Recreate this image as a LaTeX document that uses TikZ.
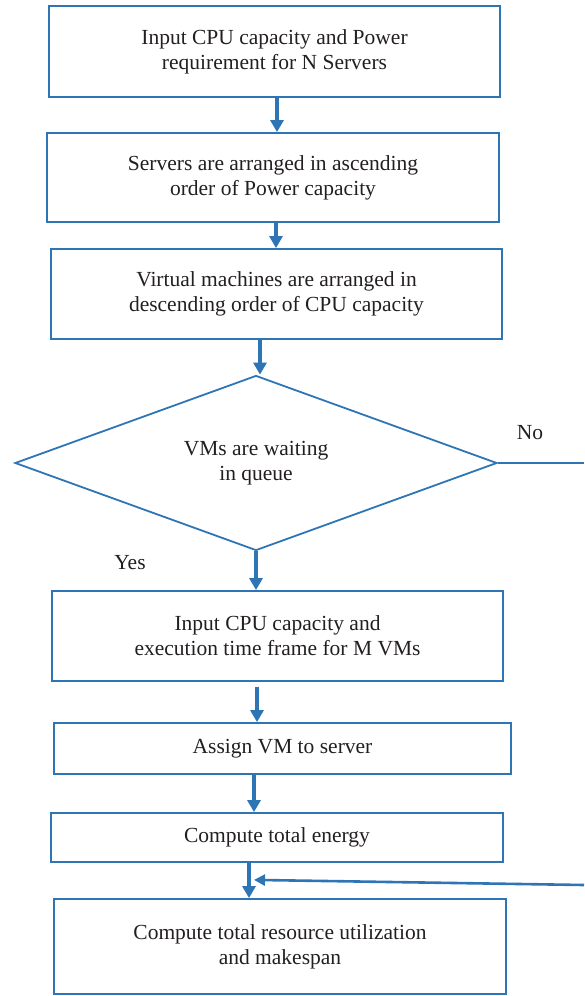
\documentclass[tikz,border=0pt]{standalone}
\usepackage{fontspec}
\setmainfont{Liberation Serif}
\usetikzlibrary{shapes.geometric,arrows.meta}
\definecolor{lineblue}{RGB}{46,117,182}
\definecolor{txt}{RGB}{35,31,32}
\tikzset{
  box/.style={draw=lineblue,line width=1.8pt,rectangle,inner sep=0pt,align=center,
    font=\fontsize{21.5}{25}\selectfont,text=txt},
  dec/.style={draw=lineblue,line width=1.8pt,diamond,aspect=2.73,inner sep=0pt,align=center,
    font=\fontsize{21.5}{25}\selectfont,text=txt},
  arr/.style={draw=lineblue,line width=3.4pt,-{Triangle[length=12pt,width=13pt]}},
  thinarr/.style={draw=lineblue,line width=2.6pt,-{Triangle[length=11pt,width=11pt]}},
  plain/.style={draw=lineblue,line width=1.8pt},
  lbl/.style={font=\fontsize{21.5}{25}\selectfont,text=txt,inner sep=0pt}
}
\begin{document}
\begin{tikzpicture}[x=1pt,y=-1pt]
\useasboundingbox (0,0) rectangle (584,996);
\node[box,minimum width=451pt,minimum height=91pt] (b1) at (274.5,51.5)
  {Input CPU capacity and Power\\requirement for N Servers};
\node[box,minimum width=452pt,minimum height=89pt] (b2) at (273,177.5)
  {Servers are arranged in ascending\\order of Power capacity};
\node[box,minimum width=451pt,minimum height=90pt] (b3) at (276.5,294)
  {Virtual machines are arranged in\\descending order of CPU capacity};
\node[dec,minimum width=482pt,minimum height=175pt] (d) at (256,463)
  {VMs are waiting\\in queue};
\node[box,minimum width=451pt,minimum height=90pt] (b4) at (277.5,636)
  {Input CPU capacity and\\execution time frame for M VMs};
\node[box,minimum width=457pt,minimum height=51pt] (b5) at (282.5,748.5)
  {Assign VM to server};
\node[box,minimum width=452pt,minimum height=49pt] (b6) at (277,837.5)
  {Compute total energy};
\node[box,minimum width=452pt,minimum height=95pt] (b7) at (280,946.5)
  {Compute total resource utilization\\and makespan};
\node[lbl] (no) at (530,433) {No};
\node[lbl] (yes) at (130,563) {Yes};
\coordinate (noend) at (584,463);
\coordinate (backstart) at (584,885);
% arrows
\draw[arr] ([xshift=2.5pt]b1.south) coordinate (t1) -- (t1 |- b2.north);
\draw[arr] ([xshift=3pt]b2.south) coordinate (t2) -- (t2 |- b3.north);
\draw[arr] ([xshift=-16.5pt]b3.south) coordinate (t3) -- (t3 |- d.north);
\draw[arr] (d.south) -- (d.south |- b4.north);
\draw[arr] ([xshift=-20.5pt,yshift=-5pt]b4.south) coordinate (t4) -- (t4 |- b5.north);
\draw[arr] ([xshift=-28.5pt]b5.south) coordinate (t5) -- (t5 |- b6.north);
\draw[arr] ([xshift=-28pt]b6.south) coordinate (t6) -- (t6 |- b7.north);
\draw[plain] (d.east) -- (noend);
\draw[thinarr] (backstart) -- ([xshift=5pt,yshift=-17pt]t6);
\end{tikzpicture}
\end{document}
